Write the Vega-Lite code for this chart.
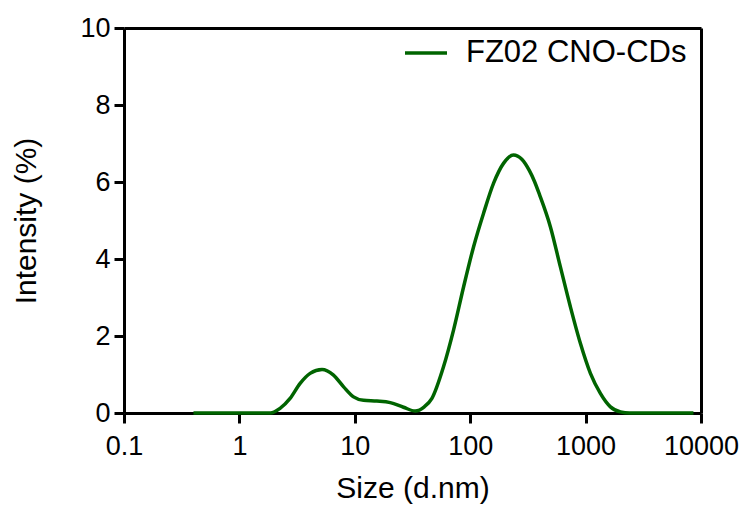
{
  "$schema": "https://vega.github.io/schema/vega-lite/v6.json",
  "width": 577,
  "height": 385,
  "autosize": {"type": "none"},
  "padding": {"left": 124, "top": 28, "right": 44, "bottom": 94},
  "background": "white",
  "config": {
    "view": {"stroke": null},
    "font": "Liberation Sans",
    "axis": {
      "domainColor": "black",
      "domainWidth": 3,
      "tickColor": "black",
      "tickWidth": 3,
      "tickSize": 10,
      "labelFont": "Liberation Sans",
      "labelFontSize": 27,
      "labelColor": "black",
      "labelFlush": false,
      "labelOverlap": false,
      "titleFont": "Liberation Sans",
      "titleFontSize": 30,
      "titleFontWeight": "normal",
      "titleColor": "black",
      "grid": false
    }
  },
  "data": {
    "values": [
      {"size": 0.4, "intensity": 0, "series": "FZ02 CNO-CDs"},
      {"size": 0.6, "intensity": 0, "series": "FZ02 CNO-CDs"},
      {"size": 1.0, "intensity": 0, "series": "FZ02 CNO-CDs"},
      {"size": 1.5, "intensity": 0, "series": "FZ02 CNO-CDs"},
      {"size": 1.85, "intensity": 0, "series": "FZ02 CNO-CDs"},
      {"size": 2.25, "intensity": 0.12, "series": "FZ02 CNO-CDs"},
      {"size": 2.75, "intensity": 0.38, "series": "FZ02 CNO-CDs"},
      {"size": 3.36, "intensity": 0.77, "series": "FZ02 CNO-CDs"},
      {"size": 4.1, "intensity": 1.03, "series": "FZ02 CNO-CDs"},
      {"size": 5.2, "intensity": 1.13, "series": "FZ02 CNO-CDs"},
      {"size": 6.5, "intensity": 0.99, "series": "FZ02 CNO-CDs"},
      {"size": 8.0, "intensity": 0.68, "series": "FZ02 CNO-CDs"},
      {"size": 9.75, "intensity": 0.42, "series": "FZ02 CNO-CDs"},
      {"size": 11.9, "intensity": 0.33, "series": "FZ02 CNO-CDs"},
      {"size": 15.5, "intensity": 0.31, "series": "FZ02 CNO-CDs"},
      {"size": 20.3, "intensity": 0.27, "series": "FZ02 CNO-CDs"},
      {"size": 26.4, "intensity": 0.15, "series": "FZ02 CNO-CDs"},
      {"size": 33.4, "intensity": 0.05, "series": "FZ02 CNO-CDs"},
      {"size": 40, "intensity": 0.16, "series": "FZ02 CNO-CDs"},
      {"size": 46.6, "intensity": 0.38, "series": "FZ02 CNO-CDs"},
      {"size": 58.7, "intensity": 1.2, "series": "FZ02 CNO-CDs"},
      {"size": 71.8, "intensity": 2.16, "series": "FZ02 CNO-CDs"},
      {"size": 87.7, "intensity": 3.28, "series": "FZ02 CNO-CDs"},
      {"size": 107, "intensity": 4.32, "series": "FZ02 CNO-CDs"},
      {"size": 130.6, "intensity": 5.19, "series": "FZ02 CNO-CDs"},
      {"size": 159.5, "intensity": 5.97, "series": "FZ02 CNO-CDs"},
      {"size": 195, "intensity": 6.49, "series": "FZ02 CNO-CDs"},
      {"size": 237, "intensity": 6.7, "series": "FZ02 CNO-CDs"},
      {"size": 280, "intensity": 6.59, "series": "FZ02 CNO-CDs"},
      {"size": 325, "intensity": 6.3, "series": "FZ02 CNO-CDs"},
      {"size": 360, "intensity": 6.02, "series": "FZ02 CNO-CDs"},
      {"size": 400, "intensity": 5.66, "series": "FZ02 CNO-CDs"},
      {"size": 495, "intensity": 4.84, "series": "FZ02 CNO-CDs"},
      {"size": 604, "intensity": 3.8, "series": "FZ02 CNO-CDs"},
      {"size": 738, "intensity": 2.76, "series": "FZ02 CNO-CDs"},
      {"size": 901, "intensity": 1.81, "series": "FZ02 CNO-CDs"},
      {"size": 1101, "intensity": 1.03, "series": "FZ02 CNO-CDs"},
      {"size": 1343, "intensity": 0.51, "series": "FZ02 CNO-CDs"},
      {"size": 1641, "intensity": 0.16, "series": "FZ02 CNO-CDs"},
      {"size": 2005, "intensity": 0.03, "series": "FZ02 CNO-CDs"},
      {"size": 2400, "intensity": 0, "series": "FZ02 CNO-CDs"},
      {"size": 3500, "intensity": 0, "series": "FZ02 CNO-CDs"},
      {"size": 5000, "intensity": 0, "series": "FZ02 CNO-CDs"},
      {"size": 7000, "intensity": 0, "series": "FZ02 CNO-CDs"},
      {"size": 8600, "intensity": 0, "series": "FZ02 CNO-CDs"}
    ]
  },
  "resolve": {"axis": {"x": "independent", "y": "independent"}},
  "layer": [
    {
      "mark": {"type": "line", "opacity": 0},
      "encoding": {
        "x": {"field": "size", "type": "quantitative", "scale": {"type": "log", "domain": [0.1, 10000]},
              "axis": {"orient": "top", "labels": false, "ticks": false, "title": null, "domainWidth": 3}},
        "y": {"field": "intensity", "type": "quantitative", "scale": {"domain": [0, 10]},
              "axis": {"orient": "right", "labels": false, "ticks": false, "title": null, "domainWidth": 3}}
      }
    },
    {
      "mark": {"type": "line", "interpolate": "monotone", "strokeWidth": 3.5},
      "encoding": {
        "x": {"field": "size", "type": "quantitative", "scale": {"type": "log", "domain": [0.1, 10000]},
              "axis": {"orient": "bottom", "values": [0.1, 1, 10, 100, 1000, 10000], "format": "~g", "title": "Size (d.nm)", "labelPadding": 10, "titlePadding": 14}},
        "y": {"field": "intensity", "type": "quantitative", "scale": {"domain": [0, 10]},
              "axis": {"orient": "left", "values": [0, 2, 4, 6, 8, 10], "title": "Intensity (%)", "labelPadding": 4, "titlePadding": 38}},
        "color": {"field": "series", "type": "nominal", "scale": {"range": ["#006400"]},
                  "legend": {"title": null, "orient": "none", "legendX": 279, "legendY": 2, "symbolType": "stroke", "symbolSize": 1764, "symbolStrokeWidth": 3.5, "labelFontSize": 31, "labelFont": "Liberation Sans", "labelColor": "black", "labelOffset": 17, "labelLimit": 400, "padding": 0}}
      }
    }
  ]
}
